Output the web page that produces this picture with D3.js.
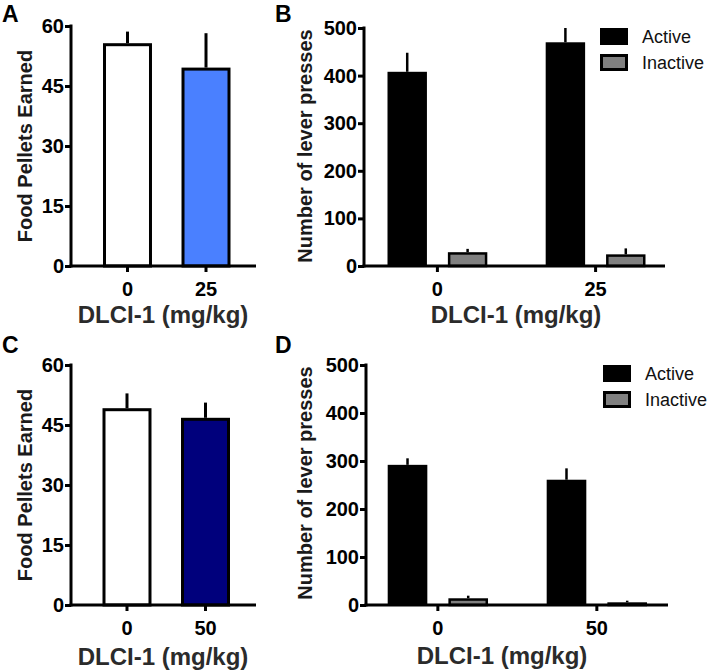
<!DOCTYPE html>
<html>
<head>
<meta charset="utf-8">
<script src="https://cdn.jsdelivr.net/npm/d3@7/dist/d3.min.js"></script>
<style>
  html, body { margin: 0; padding: 0; background: #fff; }
  svg { display: block; }
  text { font-family: "Liberation Sans", Arial, Helvetica, sans-serif; }
</style>
</head>
<body>
<svg id="chart" width="712" height="672"></svg>
<script>
// ---------------- DATA ----------------
const dosesAB = ["0", "25"];
const dosesCD = ["0", "50"];
const series = ["Active", "Inactive"];
const pelletTicks = [0, 15, 30, 45, 60];
const pressTicks = [0, 100, 200, 300, 400, 500];

const pelletsA = [55.7, 49.6];
const pelletsAErr = [2.9, 8.6];
const pelletsC = [49.2, 46.8];
const pelletsCErr = [3.7, 3.8];

const activeB = [408, 470];
const activeBErr = [40, 30];
const inactiveB = [29, 24.5];
const inactiveBErr = [7, 12.5];

const activeD = [292, 261];
const activeDErr = [13.6, 23.7];
const inactiveD = [14, 5.6];
const inactiveDErr = [5.4, 3.4];

const xTitle = "DLCI-1 (mg/kg)";
const pelletTitle = "Food Pellets Earned";
const pressTitle = "Number of lever presses";

// ---------------- STYLE ----------------
const fillsA = ["#ffffff", "#4a80ff"];
const fillsC = ["#ffffff", "#00007c"];
const seriesFill = { Active: "#000000", Inactive: "#808080" };
const tickFont = 20;

const svg = d3.select("#chart");

function axes(g, cfg, x, y, yTicks) {
  // y axis
  const ya = g.append("g").attr("transform", `translate(${cfg.ax},0)`)
    .call(d3.axisLeft(y).tickValues(yTicks).tickSize(6).tickPadding(1).tickSizeOuter(0));
  ya.select(".domain").remove();
  ya.append("line").attr("x1", 0).attr("x2", 0).attr("y1", y.range()[0] + 1.5).attr("y2", y.range()[1] - 1.5)
    .attr("stroke", "#000").attr("stroke-width", 3);
  ya.selectAll(".tick line").attr("stroke", "#000").attr("stroke-width", 3);
  ya.selectAll(".tick text").attr("fill", "#000").attr("font-size", tickFont).attr("font-weight", "bold")
    .attr("font-family", "Liberation Sans, Arial, sans-serif");

  // x axis
  const xa = g.append("g").attr("transform", `translate(0,${y(0)})`)
    .call(d3.axisBottom(x).tickSize(6).tickPadding(10).tickSizeOuter(0));
  xa.select(".domain").remove();
  xa.append("line").attr("x1", cfg.ax - 1.5).attr("x2", cfg.xEnd).attr("y1", 0).attr("y2", 0)
    .attr("stroke", "#000").attr("stroke-width", 3);
  xa.selectAll(".tick line").attr("stroke", "#000").attr("stroke-width", 3);
  xa.selectAll(".tick text").attr("fill", "#000").attr("font-size", tickFont).attr("font-weight", "bold")
    .attr("font-family", "Liberation Sans, Arial, sans-serif");

  // titles
  g.append("text").attr("x", cfg.xtX).attr("y", cfg.xtY).attr("text-anchor", "middle")
    .attr("font-size", 24).attr("font-weight", "bold").attr("fill", "#2b2b2b").text(xTitle);
  g.append("text").attr("transform", `translate(${cfg.ytX},${cfg.ytY}) rotate(-90)`)
    .attr("text-anchor", "middle").attr("font-size", 20).attr("font-weight", "bold")
    .attr("fill", "#1a1a1a").text(cfg.yTitle);
  g.append("text").attr("x", cfg.lx).attr("y", cfg.ly).attr("font-size", 23)
    .attr("font-weight", "bold").attr("fill", "#000").text(cfg.letter);
}

function singlePanel(cfg, cats, vals, errs, fills) {
  const g = svg.append("g");
  const y = d3.scaleLinear().domain([0, 60]).range([cfg.y0, cfg.y1]);
  const x = d3.scaleBand().domain(cats).range([cfg.b0, cfg.b1]).paddingInner(0.376).paddingOuter(0);
  const data = cats.map((c, i) => ({ c, v: vals[i], e: errs[i], f: fills[i] }));
  g.selectAll("line.err").data(data).enter().append("line").attr("class", "err")
    .attr("x1", d => x(d.c) + x.bandwidth() / 2).attr("x2", d => x(d.c) + x.bandwidth() / 2)
    .attr("y1", d => y(d.v)).attr("y2", d => y(d.v + d.e))
    .attr("stroke", "#000").attr("stroke-width", 3);
  g.selectAll("rect.bar").data(data).enter().append("rect").attr("class", "bar")
    .attr("x", d => x(d.c) + 1.5).attr("width", x.bandwidth() - 3)
    .attr("y", d => y(d.v) + 1.5).attr("height", d => y(0) - y(d.v) - 1.5)
    .attr("fill", d => d.f).attr("stroke", "#000").attr("stroke-width", 3);
  axes(g, cfg, x, y, pelletTicks);
}

function groupedPanel(cfg, cats, act, actE, inact, inactE) {
  const g = svg.append("g");
  const y = d3.scaleLinear().domain([0, 500]).range([cfg.y0, cfg.y1]);
  const x = d3.scaleBand().domain(cats).range([cfg.b0, cfg.b1]).paddingInner(0.369).paddingOuter(0);
  const xs = d3.scaleBand().domain(series).range([0, x.bandwidth()]).paddingInner(0.347).paddingOuter(0);
  const data = [];
  cats.forEach((c, i) => {
    data.push({ c, s: "Active", v: act[i], e: actE[i] });
    data.push({ c, s: "Inactive", v: inact[i], e: inactE[i] });
  });
  const bx = d => x(d.c) + xs(d.s);
  g.selectAll("line.err").data(data).enter().append("line").attr("class", "err")
    .attr("x1", d => bx(d) + xs.bandwidth() / 2).attr("x2", d => bx(d) + xs.bandwidth() / 2)
    .attr("y1", d => y(d.v)).attr("y2", d => y(d.v + d.e))
    .attr("stroke", "#000").attr("stroke-width", 2.5);
  g.selectAll("rect.bar").data(data).enter().append("rect").attr("class", "bar")
    .attr("x", d => bx(d) + (d.s === "Inactive" ? 1.25 : 0))
    .attr("width", d => xs.bandwidth() - (d.s === "Inactive" ? 2.5 : 0))
    .attr("y", d => y(d.v) + (d.s === "Inactive" ? 1.25 : 0))
    .attr("height", d => Math.max(0, y(0) - y(d.v) - (d.s === "Inactive" ? 1.25 : 0)))
    .attr("fill", d => seriesFill[d.s])
    .attr("stroke", d => d.s === "Inactive" ? "#000" : "none").attr("stroke-width", 2.5);
  axes(g, cfg, x, y, pressTicks);

  // legend
  const lg = g.append("g");
  series.forEach((s, i) => {
    lg.append("rect").attr("x", cfg.legX + 1.5).attr("y", cfg.legY + i * 26 + 1.5)
      .attr("width", 25).attr("height", 14)
      .attr("fill", seriesFill[s]).attr("stroke", "#000").attr("stroke-width", 3);
    lg.append("text").attr("x", cfg.legX + 42).attr("y", cfg.legY + i * 26 + 15)
      .attr("font-size", 18).attr("fill", "#111").text(s);
  });
}

singlePanel({ letter: "A", lx: 2, ly: 22, ax: 71, xEnd: 256, y0: 266, y1: 26, b0: 103, b1: 230.5,
  xtX: 163, xtY: 323, ytX: 32, ytY: 146, yTitle: pelletTitle }, dosesAB, pelletsA, pelletsAErr, fillsA);

groupedPanel({ letter: "B", lx: 275, ly: 22, ax: 364, xEnd: 665, y0: 266, y1: 28, b0: 387.5, b1: 645.5,
  xtX: 516, xtY: 323, ytX: 312, ytY: 146, yTitle: pressTitle, legX: 600, legY: 28 },
  dosesAB, activeB, activeBErr, inactiveB, inactiveBErr);

singlePanel({ letter: "C", lx: 2, ly: 353, ax: 71, xEnd: 256, y0: 605, y1: 365, b0: 102.5, b1: 230,
  xtX: 163, xtY: 665, ytX: 32, ytY: 485, yTitle: pelletTitle }, dosesCD, pelletsC, pelletsCErr, fillsC);

groupedPanel({ letter: "D", lx: 275, ly: 353, ax: 366, xEnd: 668, y0: 605, y1: 365, b0: 387.7, b1: 647,
  xtX: 502, xtY: 664, ytX: 312, ytY: 483, yTitle: pressTitle, legX: 603, legY: 365 },
  dosesCD, activeD, activeDErr, inactiveD, inactiveDErr);
</script>
</body>
</html>
